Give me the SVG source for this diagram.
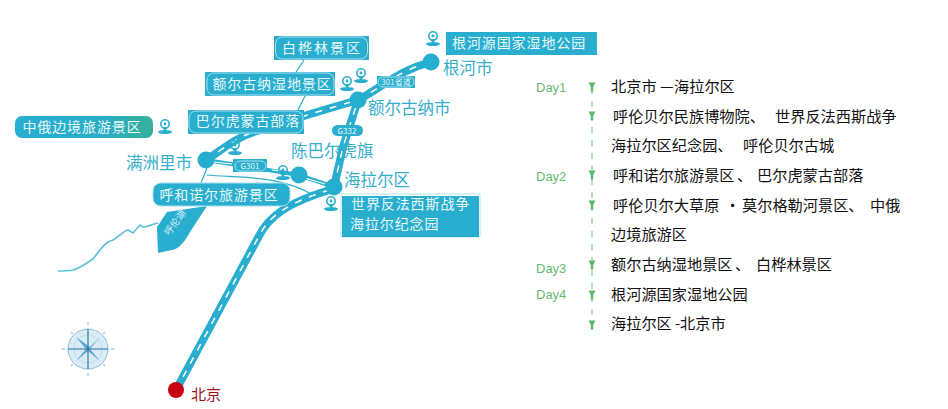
<svg xmlns="http://www.w3.org/2000/svg" width="948" height="409" viewBox="0 0 948 409">
<defs>
<style>
text{font-family:"Noto Sans CJK SC","Liberation Sans",sans-serif}
.road{fill:none;stroke:#29aecf;stroke-width:8;stroke-linecap:round}
.dash{fill:none;stroke:#fff;stroke-width:1.5;stroke-dasharray:7 8}
.thin{fill:none;stroke:#29aecf;stroke-width:1.2}
.city{fill:#26aed0}
.cityt{fill:#36aecb;font-size:16.5px}
.box{fill:#29aecf}
.inner{fill:none;stroke:#a8e0ee;stroke-width:1}
.lab{fill:#e8f8fb;font-size:14px;letter-spacing:.9px}
.tag{fill:#e8f8fb;font-size:8px;text-anchor:middle}
.pin{fill:none;stroke:#29aecf;stroke-width:1.6}
.pinb{fill:#29aecf}
.day{fill:#64bb6f;font-size:13px;font-family:"Liberation Sans",sans-serif}
.it{fill:#111;font-size:15.2px}
.vl{stroke:#9ad6a4;stroke-width:1.5;stroke-dasharray:6 7;fill:none}
.ah{fill:#5cb96b}
</style>
<linearGradient id="g1" x1="0" x2="1" y1="0" y2="0"><stop offset="0" stop-color="#27aed0"/><stop offset=".6" stop-color="#28aec8"/><stop offset="1" stop-color="#35b09a"/></linearGradient>
<g id="p"><circle cx="0" cy="-3" r="4.2" class="pin"/><circle cx="0" cy="-3" r="1.4" class="pinb"/><path d="M-3.500 0L0 4L3.500 0Z" class="pinb"/><ellipse cx="0" cy="5" rx="7" ry="2" class="pinb"/></g>
<path id="a" d="M-3.500-4.500H3.500L1.200 0V4.500H-1.200V0Z"/>
</defs>

<g id="connectors">
<path class="road" d="M176 390L259 236C268 218 285 203 333 189"/>
<path class="dash" d="M176 390L259 236C268 218 285 203 333 189"/>
<path class="road" d="M334 187L343 147L358 100"/>
<path class="dash" d="M334 187L343 147L358 100"/>
<path class="road" d="M358 100C385 85 400 70 431 62"/>
<path class="dash" d="M358 100C385 85 400 70 431 62"/>
<path class="road" d="M206 160C222 150 236 137 257 131C290 120 330 108 358 100"/>
<path class="dash" d="M206 160C222 150 236 137 257 131C290 120 330 108 358 100"/>
<path d="M206 160L299 175L334 187" fill="none" stroke="#29aecf" stroke-width="4"/>
<path d="M214 162L232 164M272 170L280 171M305 178L325 184" fill="none" stroke="#fff" stroke-width="1.2"/>
<path class="thin" d="M207 175C240 178 280 175 313 195"/>
<path class="thin" d="M207 168L201 183M304 60L296 72M305 96L298 110"/>
<path d="M58 271C64 271 68 271 73 270C80 268 87 263 93 259C98 253 102 246 108 242L113 240C118 238 123 231 128 230L133 233L140 225L143 227C148 227 152 224 158 223" fill="none" stroke="#5fc2dc" stroke-width="1.700"/>
<path class="box" d="M167 212L207 206L190 232C186 240 178 250 172 250C167 251 162 252 158 253L157 227Z"/>
</g>

<g id="lake-label"><text transform="translate(169 236) rotate(-53)" fill="#d8f2f7" font-size="9.5px">呼伦湖</text></g>

<g id="compass">
<circle cx="88" cy="349" r="20" fill="#d9ebf5" stroke="#8fbfdc" stroke-width="1"/>
<circle cx="88" cy="349" r="14" fill="none" stroke="#b9d8ea" stroke-width=".8"/>
<path d="M76 337L90 347L100 337L90 349L100 361L88 351L76 361L86 349Z" fill="#5aa9d6"/>
<path d="M88 329V369M68 349H108" stroke="#2f6f97" stroke-width="1.100"/>
<path d="M88 322V325M88 373V376M62 349H65M111 349H114M71 332L73 334M105 332L103 334M71 366L73 364M105 366L103 364" stroke="#a9cfe3" stroke-width="1.500"/>
</g>

<g id="beijing"><circle cx="176" cy="390" r="8" fill="#c70010"/><text x="191" y="400" fill="#a3101a" font-size="15px">北京</text></g>
<g id="genhe"><circle cx="431" cy="62" r="8.5" class="city"/><text x="443" y="74" class="cityt">根河市</text></g>
<g id="eerguna"><circle cx="358" cy="100" r="8.5" class="city"/><text x="368" y="114" class="cityt">额尔古纳市</text></g>
<g id="manzhouli"><circle cx="206" cy="160" r="8.5" class="city"/><text x="126" y="169" class="cityt">满洲里市</text></g>
<g id="chenbaerhu"><circle cx="299" cy="175" r="8.5" class="city"/><text x="291" y="157" class="cityt">陈巴尔虎旗</text></g>
<g id="hailaer"><circle cx="334" cy="187" r="8.5" class="city"/><text x="344" y="186" class="cityt">海拉尔区</text></g>

<g id="tag-g301"><rect x="233" y="159" width="34" height="13" class="box"/><rect x="235" y="161" width="31" height="10" rx="5" class="inner"/><text x="250" y="169" class="tag">G301</text></g>
<g id="tag-g332"><rect x="332" y="125" width="31" height="11" rx="5.500" class="box"/><text x="347" y="134" class="tag">G332</text></g>
<g id="tag-301"><rect x="377" y="76" width="38" height="12" class="box"/><rect x="378" y="77" width="36" height="10" rx="5" class="inner"/><text x="396" y="85" class="tag">301省道</text></g>

<g id="n-baihua"><rect x="274" y="36" width="95" height="24" class="box"/><rect x="275.500" y="37" width="92" height="22" rx="7" class="inner"/><text x="322" y="53" text-anchor="middle" class="lab" style="letter-spacing:2px">白桦林景区</text></g>
<g id="n-shidi"><rect x="205" y="72" width="130" height="24" class="box"/><rect x="207" y="73" width="127" height="22" rx="7" class="inner"/><text x="272" y="89" text-anchor="middle" class="lab">额尔古纳湿地景区</text></g>
<g id="n-baerhu"><rect x="188" y="110" width="116" height="24" class="box"/><rect x="189" y="111" width="114" height="22" rx="7" class="inner"/><text x="248" y="126" text-anchor="middle" class="lab">巴尔虎蒙古部落</text></g>
<g id="n-zhonge"><rect x="15" y="116" width="138" height="22" rx="7" fill="url(#g1)"/><text x="82" y="132" text-anchor="middle" class="lab">中俄边境旅游景区</text></g>
<g id="n-hunuoer"><rect x="153" y="183" width="137" height="23" rx="8" class="box" stroke="#a8e0ee" stroke-width="1"/><text x="219" y="200" text-anchor="middle" class="lab">呼和诺尔旅游景区</text></g>
<g id="n-genheyuan"><rect x="446" y="32" width="151" height="23" class="box"/><text x="452" y="48" class="lab">根河源国家湿地公园</text></g>
<g id="n-shijie"><rect x="341" y="194" width="139" height="43" fill="#fff" stroke="#9fdcea" stroke-width=".8"/><rect x="342" y="196" width="137" height="41" class="box"/><text x="351" y="209" class="lab">世界反法西斯战争</text><text x="350" y="229" class="lab">海拉尔纪念园</text></g>

<g id="pins">
<use href="#p" x="165" y="127"/><use href="#p" x="235" y="148"/><use href="#p" x="283" y="173"/><use href="#p" x="331" y="204"/><use href="#p" x="347" y="84"/><use href="#p" x="361" y="76"/><use href="#p" x="433" y="39"/>
</g>

<g id="timeline">
<path class="vl" d="M592 88V328"/>
<use href="#a" x="592" y="87" class="ah"/><use href="#a" x="592" y="116" class="ah"/><use href="#a" x="592" y="175" class="ah"/><use href="#a" x="592" y="205" class="ah"/><use href="#a" x="592" y="265" class="ah"/><use href="#a" x="592" y="295" class="ah"/><use href="#a" x="592" y="325" class="ah"/>
<text x="536" y="92" class="day">Day1</text><text x="536" y="181" class="day">Day2</text><text x="536" y="273" class="day">Day3</text><text x="536" y="299" class="day">Day4</text>
<text y="92" class="it"><tspan x="611">北京市</tspan><tspan x="660">—</tspan><tspan x="674">海拉尔区</tspan></text>
<text y="122" class="it"><tspan x="613">呼伦贝尔民族博物院、</tspan><tspan x="775">世界反法西斯战争</tspan></text>
<text y="151" class="it"><tspan x="611">海拉尔区纪念园、</tspan><tspan x="743">呼伦贝尔古城</tspan></text>
<text y="181" class="it"><tspan x="613">呼和诺尔旅游景区</tspan><tspan x="737">、</tspan><tspan x="757">巴尔虎蒙古部落</tspan></text>
<text y="211" class="it"><tspan x="613">呼伦贝尔大草原</tspan><tspan x="725">·</tspan><tspan x="742">莫尔格勒河景区、</tspan><tspan x="870">中俄</tspan></text>
<text x="611" y="240" class="it">边境旅游区</text>
<text y="270" class="it"><tspan x="611">额尔古纳湿地景区</tspan><tspan x="735">、</tspan><tspan x="756">白桦林景区</tspan></text>
<text x="611" y="300" class="it">根河源国家湿地公园</text>
<text y="329" class="it"><tspan x="611">海拉尔区</tspan><tspan x="675">-</tspan><tspan x="680">北京市</tspan></text>
</g>
</svg>
